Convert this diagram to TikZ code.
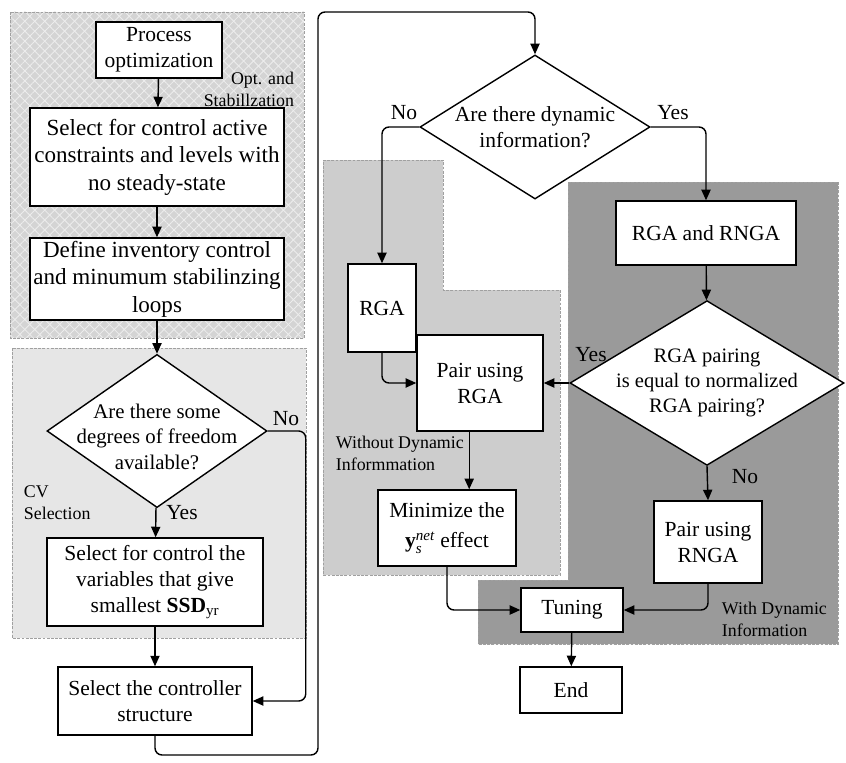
\documentclass[tikz,border=0pt]{standalone}
\usepackage{amsmath}
\usepackage{fontspec}
\setmainfont{Liberation Serif}
\usetikzlibrary{shapes.geometric,arrows.meta,positioning,calc,patterns.meta}
\definecolor{optHatch}{HTML}{D4D4D4}
\definecolor{optLine}{HTML}{EDEDED}
\definecolor{cvGray}{HTML}{E6E6E6}
\definecolor{noDynGray}{HTML}{CDCDCD}
\definecolor{dynGray}{HTML}{9A9A9A}
\definecolor{zoneEdge}{HTML}{A0A0A0}

\begin{document}
\begin{tikzpicture}[
    x=0.025cm, y=-0.025cm,
    font=\fontsize{15.3}{18.5}\selectfont,
    box/.style={draw, fill=white, line width=1pt, align=center, inner sep=1pt},
    bigbox/.style={box, font=\fontsize{16.4}{19.5}\selectfont},
    decision/.style={draw, fill=white, diamond, line width=1pt, align=center,
                     inner xsep=0pt, inner ysep=-30pt},
    zone/.style={draw=zoneEdge, dash pattern=on 2pt off 1pt, line width=0.4pt},
    note/.style={font=\fontsize{12.7}{15.5}\selectfont},
    link/.style={line width=1pt, rounded corners=5pt, -{Triangle[length=7.5pt,width=6.5pt]}},
]
    \useasboundingbox (0,0) rectangle (846,762);
    % shaded zones
    \fill[optHatch] (10,12) rectangle (304,338);
    \fill[pattern={Lines[angle=45,distance=5pt,line width=0.6pt]}, pattern color=optLine] (10,12) rectangle (304,338);
    \fill[pattern={Lines[angle=-45,distance=5pt,line width=0.6pt]}, pattern color=optLine] (10,12) rectangle (304,338);
    \draw[zone] (10,12) rectangle (304,338);
    \path[zone, fill=cvGray] (12,348) rectangle (306,638);
    \path[zone, fill=noDynGray] (323,160) -- (443,160) -- (443,290) -- (560,290)
        -- (560,575) -- (323,575) -- cycle;
    \path[zone, fill=dynGray] (568,182) -- (838,182) -- (838,644) -- (478,644)
        -- (478,580) -- (568,580) -- cycle;

    % left column
    \node[box, minimum width=3.15cm, minimum height=1.4cm] (procopt) at (159,50) {Process\\optimization};
    \node[bigbox, minimum width=6.35cm, minimum height=2.45cm] (actcons) at (157,157)
        {Select for control active\\constraints and levels with\\no steady-state};
    \node[bigbox, minimum width=6.35cm, minimum height=2.05cm] (invctl) at (157,279)
        {Define inventory control\\and minumum stabilinzing\\loops};
    \node[decision, minimum width=5.5cm, minimum height=3.3cm, font=\fontsize{14.8}{18}\selectfont]
        (dofq) at (157,431) {\rule{0pt}{18.5pt}Are there some\\degrees of freedom\\available?};
    \node[box, minimum width=5.4cm, minimum height=2.2cm] (cvsel) at (155,582)
        {Select for control the\\variables that give\\smallest \textbf{SSD}\textsubscript{yr}};
    \node[box, minimum width=4.85cm, minimum height=1.7cm] (ctrlstr) at (155,701)
        {Select the controller\\structure};

    % right part
    \node[decision, minimum width=5.75cm, minimum height=3.6cm] (dynq) at (535,127)
        {Are there dynamic\\information?};
    \node[box, minimum width=1.7cm, minimum height=2.2cm] (rga) at (382,308) {RGA};
    \node[box, minimum width=4.5cm, minimum height=1.6cm] (both) at (706,233) {RGA and RNGA};
    \node[decision, minimum width=6.85cm, minimum height=3.6cm, font=\fontsize{14.6}{17.5}\selectfont]
        (sameq) at (707,383) {RGA pairing\\is equal to normalized\\RGA pairing?};
    \node[box, minimum width=3.15cm, minimum height=2.4cm] (pairrga) at (480,383) {Pair using\\RGA};
    \node[box, minimum width=3.45cm, minimum height=1.9cm] (ynet) at (447,528)
        {Minimize the\\[3pt]$\textbf{y}_{\textit{s}}^{\textit{net}}$ effect};
    \node[box, minimum width=2.7cm, minimum height=2.05cm] (pairrnga) at (708,542) {Pair using\\RNGA};
    \node[box, minimum width=2.55cm, minimum height=1.1cm] (tune) at (572,610) {Tuning};
    \node[box, minimum width=2.55cm, minimum height=1.15cm] (finish) at (571,690) {End};

    % zone labels
    \node[note, align=right, anchor=north east] (optlbl) at (299,67) {Opt. and\\Stabillzation};
    \node[note, align=left, anchor=north west] (cvlbl) at (19,481) {CV\\Selection};
    \node[note, align=left, anchor=north west] (nodynlbl) at (331,431) {Without Dynamic\\Informmation};
    \node[note, align=left, anchor=north west] (dynlbl) at (717,597) {With Dynamic\\Information};

    % branch labels
    \node (dofno) at (286,419) {No};
    \node (dofyes) at (182,513) {Yes};
    \node (dynno) at (404,113) {No};
    \node (dynyes) at (673,113) {Yes};
    \node (sameyes) at (591,355) {Yes};
    \node (sameno) at (745,477) {No};

    \coordinate (loopbot) at (318,755);
    \coordinate (looptop) at (318,12);

    % connectors
    \draw[link] (procopt) -- (actcons);
    \draw[link] (actcons) -- (invctl);
    \draw[link] (invctl) -- (dofq);
    \draw[link] (dofq) -- (cvsel);
    \draw[link] (cvsel) -- (ctrlstr);
    \draw[link] (dofq.east) -- ++(38,0) |- (ctrlstr.east);
    \draw[link] (ctrlstr.south) |- (loopbot) -- (looptop) -| (dynq.north);
    \draw[link] (dynq.west) -| (rga.north);
    \draw[link] (dynq.east) -| (both.north);
    \draw[link] (rga.south) |- (pairrga.west);
    \draw[link] (both) -- (sameq);
    \draw[link] (sameq.west) -- (pairrga.east);
    \draw[link] (sameq.south) -- (pairrnga.north);
    \draw[link] ([xshift=-0.27cm]pairrga.south) -- ([xshift=-0.27cm]pairrga.south |- ynet.north);
    \draw[link] (ynet.south) |- (tune.west);
    \draw[link] (pairrnga.south) |- (tune.east);
    \draw[link] (tune) -- (finish);
\end{tikzpicture}
\end{document}
